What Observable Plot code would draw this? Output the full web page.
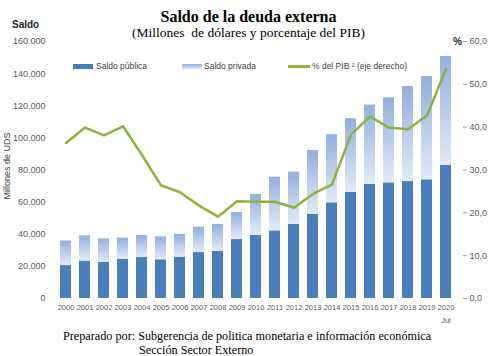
<!DOCTYPE html>
<html><head><meta charset="utf-8">
<script src="https://cdn.jsdelivr.net/npm/d3@7"></script>
<script src="https://cdn.jsdelivr.net/npm/@observablehq/plot@0.6"></script>
<style>
body{margin:0;background:#fff;}
#wrap{position:relative;width:499px;height:356px;overflow:hidden;font-family:"Liberation Sans",Arial,sans-serif;}
.abs{position:absolute;white-space:nowrap;}
#chart{position:absolute;left:0;top:0;}
.serif{font-family:"Liberation Serif","Times New Roman",serif;color:#000;}
.leg{font-size:8.5px;color:#404040;line-height:10px;}
.sw{position:absolute;}
</style></head><body>
<div id="wrap">
  <div id="chart"></div>
  <div class="abs serif" style="left:0;width:497px;text-align:center;top:8px;font-size:16px;line-height:18px;font-weight:bold;">Saldo de la deuda externa</div>
  <div class="abs serif" style="left:0;width:497px;text-align:center;top:25px;font-size:13.5px;line-height:15px;">(Millones&nbsp; de dólares y porcentaje del PIB)</div>
  <div class="abs" style="left:12px;top:19px;font-size:10px;line-height:12px;font-weight:bold;color:#262626;">Saldo</div>
  <div class="abs" style="left:453px;top:36px;font-size:10px;line-height:12px;font-weight:bold;color:#262626;">%</div>
  <div class="abs" style="left:7px;top:166px;font-size:9px;line-height:10px;color:#404040;transform:translate(-50%,-50%) rotate(-90deg);">Millones de UDS</div>
  <div class="sw" style="left:73px;top:64px;width:20px;height:5px;background:#4a7ebb;"></div>
  <div class="abs leg" style="left:96px;top:61px;">Saldo pública</div>
  <div class="sw" style="left:182px;top:64px;width:20px;height:5px;background:linear-gradient(#92afdf,#e3eaf6);"></div>
  <div class="abs leg" style="left:204px;top:61px;">Saldo privada</div>
  <div class="sw" style="left:288px;top:65px;width:22px;height:3px;background:#8cb43c;"></div>
  <div class="abs leg" style="left:312px;top:61px;">% del PIB ² (eje derecho)</div>
  <div class="abs serif" style="left:63px;top:329px;font-size:12.2px;line-height:14px;">Preparado por: Subgerencia de politica monetaria e información económica</div>
  <div class="abs serif" style="left:139px;top:343px;font-size:12.2px;line-height:14px;">Sección Sector Externo</div>
</div>
<script>
const years = ["2000","2001","2002","2003","2004","2005","2006","2007","2008","2009","2010","2011","2012","2013","2014","2015","2016","2017","2018","2019","2020"];
const saldoPublica = [20500,23300,22400,24300,25500,24100,25700,28600,29300,36700,39400,42100,46100,52300,59600,66000,71000,72000,72800,73900,82800];
const saldoPrivada = [15300,15700,14700,13300,13700,14300,14200,15800,16800,16800,25400,33400,32600,39900,42300,45900,49400,52900,59200,64300,67900];
const pctPIB = [36.3,39.9,38.1,40.2,33.5,26.4,24.8,21.7,19.1,22.7,22.6,22.6,21.2,24.4,26.6,38.2,42.5,39.9,39.5,42.7,53.6];
const leftTicks = [0,20000,40000,60000,80000,100000,120000,140000,160000];
const rightTicks = [0,10,20,30,40,50,60];
const yMax = 160000, pctMax = 60;
const k = yMax / pctMax;

const rows = years.map((y, i) => ({
  year: y,
  pub: saldoPublica[i],
  top: saldoPublica[i] + saldoPrivada[i],
  pct: pctPIB[i] * k
}));

const fmtLeft = d => d === 0 ? "0" : d3.format(",")(d).replace(/,/g, ".");
const fmtRight = d => (d / k).toFixed(1).replace(".", ",");

const plot = Plot.plot({
  width: 499,
  height: 330,
  marginTop: 41,
  marginBottom: 32,
  marginLeft: 50,
  marginRight: 37,
  style: {fontFamily: "Liberation Sans, Arial, sans-serif", fontSize: "9px", color: "#595959", background: "transparent"},
  x: {type: "band", domain: years, paddingInner: 0.4, paddingOuter: 0.2, axis: null},
  y: {domain: [0, yMax], axis: null},
  marks: [
    Plot.barY(rows, {x: "year", y1: 0, y2: "pub", fill: "#4a7ebb"}),
    Plot.barY(rows, {x: "year", y1: "pub", y2: "top", fill: "url(#privGrad)"}),
    Plot.axisY({anchor: "left", ticks: leftTicks, tickFormat: fmtLeft, tickSize: 0, tickPadding: 5, line: true, stroke: "#a6a6a6", fill: "#595959", label: null, fontSize: 9}),
    Plot.axisY({anchor: "right", ticks: rightTicks.map(v => v * k), tickFormat: fmtRight, tickSize: 4, tickPadding: 3, line: true, stroke: "#a6a6a6", fill: "#595959", label: null, fontSize: 9}),
    Plot.axisX({anchor: "bottom", tickSize: 0, tickPadding: 6, line: true, stroke: "#a6a6a6", fill: "#595959", label: null, fontSize: 7.5}),
    Plot.text([{year: "2020"}], {x: "year", y: 0, text: () => "Jul", dy: 22, fontSize: 7.5, fill: "#595959"}),
    Plot.line(rows, {x: "year", y: "pct", stroke: "#8cb43c", strokeWidth: 2.5, strokeLinejoin: "round"})
  ]
});

const ns = "http://www.w3.org/2000/svg";
const defs = document.createElementNS(ns, "defs");
const grad = document.createElementNS(ns, "linearGradient");
grad.setAttribute("id", "privGrad");
grad.setAttribute("x1", "0"); grad.setAttribute("y1", "0");
grad.setAttribute("x2", "0"); grad.setAttribute("y2", "1");
[["0%", "#92afdf"], ["100%", "#e3eaf6"]].forEach(([o, c]) => {
  const s = document.createElementNS(ns, "stop");
  s.setAttribute("offset", o); s.setAttribute("stop-color", c);
  grad.appendChild(s);
});
defs.appendChild(grad);
plot.insertBefore(defs, plot.firstChild);
document.getElementById("chart").appendChild(plot);
</script>
</body></html>
